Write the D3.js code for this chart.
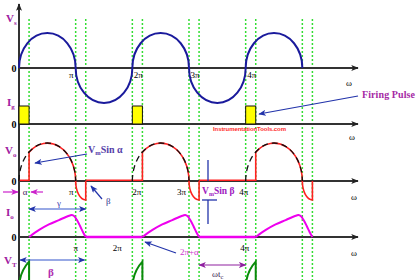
<!DOCTYPE html>
<html>
<head>
<meta charset="utf-8">
<script src="https://cdn.jsdelivr.net/npm/d3@7"></script>
<style>
  body { margin: 0; background: #fff; }
  svg { display: block; }
  .lbl { font-family: "Liberation Serif", "Times New Roman", serif; font-weight: bold; }
  .tick { font-family: "Liberation Serif", "Times New Roman", serif; font-size: 9px; }
</style>
</head>
<body>
<svg id="viz" width="420" height="280"></svg>
<script>
// angles in degrees of wt
const alphaDeg = 32;          // firing angle
const betaDeg = 212;          // extinction angle

// supply half waves (start angle, sign)
const supplyStarts = [0, 180, 360, 540, 720];
const supplySigns = [1, -1, 1, -1, 1];

// positive cycles that are fired
const firedCycles = [0, 360, 720];

// output voltage levels at firing / extinction (per unit of Vm)
const vAtAlpha = 0.76;
const vAtBeta = -0.5;

// load current during one conduction interval (per unit of peak)
const ioAngles = [32, 64, 95, 127, 149, 162, 168, 175, 184, 194, 203, 212];
const ioValues = [0, 0.32, 0.57, 0.77, 0.91, 0.98, 1.0, 0.95, 0.77, 0.5, 0.23, 0];

// dotted guide lines
const guideAngles = [32, 180, 212, 360, 392, 540, 572, 720, 752, 900, 932];

// tick labels
const tickAngles = [180, 360, 540, 720];
const tickLabels = ["π", "2π", "3π", "4π"];

const svg = d3.select('#viz');

const x = d3.scaleLinear().domain([0, 1080]).range([19, 359]);
const yVs = d3.scaleLinear().domain([-1, 1]).range([103, 33]);
const yIg = d3.scaleLinear().domain([0, 1]).range([124, 106]);
const yVo = d3.scaleLinear().domain([-1, 1]).range([219, 143]);
const yIo = d3.scaleLinear().domain([0, 1]).range([237, 215]);
const yVt = d3.scaleLinear().domain([-1, 1]).range([325, 253]);

// ---- markers
const defs = svg.append('defs');
function marker(id, color) {
    defs.append('marker')
        .attr('id', id)
        .attr('viewBox', '0 -4 10 8')
        .attr('refX', 9).attr('refY', 0)
        .attr('markerWidth', 8).attr('markerHeight', 6)
        .attr('markerUnits', 'userSpaceOnUse')
        .attr('orient', 'auto-start-reverse')
        .append('path')
        .attr('d', 'M0,-4L10,0L0,4L2.5,0Z')
        .attr('fill', color);
}
marker('ah-black', '#222');
marker('ah-blue', '#2233aa');
marker('ah-mag', '#cc22cc');
marker('ah-purple', '#9020a0');

// half of a sine drawn as an elliptical arc, like in the picture
function halfWave(y, start, sign) {
    const rx = (x(180) - x(0)) / 2, ry = y(0) - y(1);
    return `M${x(start)},${y(0)}A${rx},${ry} 0 0 ${sign > 0 ? 1 : 0} ${x(start + 180)},${y(0)}`;
}

// ---- green dotted guides
svg.append('g')
    .selectAll('line')
    .data(guideAngles)
    .enter()
    .append('line')
    .attr('x1', d => x(d)).attr('x2', d => x(d))
    .attr('y1', 19).attr('y2', 280)
    .attr('stroke', '#33dd33')
    .attr('stroke-width', 1.5)
    .attr('stroke-dasharray', '2,2');

// ---- axes
const axisLevels = [yVs(0), yIg(0), yVo(0), yIo(0)];
svg.append('g')
    .selectAll('line')
    .data(axisLevels)
    .enter()
    .append('line')
    .attr('x1', x(0)).attr('x2', 358)
    .attr('y1', d => d).attr('y2', d => d)
    .attr('stroke', '#333')
    .attr('stroke-width', 2)
    .attr('marker-end', 'url(#ah-black)');

svg.append('line')
    .attr('x1', x(0)).attr('x2', x(0))
    .attr('y1', 280).attr('y2', 4)
    .attr('stroke', '#333')
    .attr('stroke-width', 2)
    .attr('marker-end', 'url(#ah-black)');

// omega labels at the end of each axis
const omegaPos = [[349, 86], [352, 140], [354, 200], [354, 256]];
svg.append('g')
    .selectAll('text')
    .data(omegaPos)
    .enter()
    .append('text')
    .attr('class', 'tick')
    .attr('x', d => d[0]).attr('y', d => d[1])
    .attr('text-anchor', 'middle')
    .text('ω');

// zero labels
svg.append('g')
    .selectAll('text')
    .data(axisLevels)
    .enter()
    .append('text')
    .attr('class', 'lbl')
    .attr('font-size', 10)
    .attr('x', 14).attr('y', d => d + 3.5)
    .attr('text-anchor', 'middle')
    .text('0');

// panel names
function name(xp, yp, main, sub, color) {
    const t = svg.append('text').attr('class', 'lbl')
        .attr('x', xp).attr('y', yp).attr('fill', color).attr('font-size', 11);
    t.append('tspan').text(main);
    t.append('tspan').attr('font-size', 7).attr('dy', 2.5).text(sub);
    return t;
}
name(6, 22, 'V', 's', '#a020a0');
name(7, 106, 'I', 'g', '#a020a0');
name(5, 154, 'V', 'o', '#a020a0');
name(6, 216, 'I', 'o', '#a020a0');
name(4, 264, 'V', 'T', '#a020a0');

// tick labels per panel (null anchor = label not shown in that panel)
function ticks(yp, anchors, shifts) {
    svg.append('g')
        .selectAll('text')
        .data(tickLabels.map((d, i) => ({ text: d, angle: tickAngles[i], anchor: anchors[i], shift: shifts[i] }))
            .filter(d => d.anchor))
        .enter()
        .append('text')
        .attr('class', 'tick')
        .attr('x', d => x(d.angle) + d.shift)
        .attr('y', yp)
        .attr('text-anchor', d => d.anchor)
        .text(d => d.text);
}
ticks(78, ['end', 'start', 'start', 'start'], [-2, 1.5, 1.5, 1.5]);
ticks(195, ['end', 'start', 'end', 'middle'], [-2, 0, -3, -2]);
ticks(251, ['middle', 'middle', null, 'middle'], [0, -15, 0, -1]);

// ---- supply voltage
svg.append('g')
    .selectAll('path')
    .data(supplyStarts)
    .enter()
    .append('path')
    .attr('d', (d, i) => halfWave(yVs, d, supplySigns[i]))
    .attr('fill', 'none')
    .attr('stroke', '#1a1a9c')
    .attr('stroke-width', 2);

// ---- gate pulses
svg.append('g')
    .selectAll('rect')
    .data(firedCycles)
    .enter()
    .append('rect')
    .attr('x', d => x(d))
    .attr('y', yIg(1))
    .attr('width', d => x(d + alphaDeg) - x(d))
    .attr('height', yIg(0) - yIg(1))
    .attr('fill', '#ffff00')
    .attr('stroke', '#111')
    .attr('stroke-width', 1);

// ---- output voltage
const zeroVo = [[0, alphaDeg], [betaDeg, 360 + alphaDeg], [360 + betaDeg, 720 + alphaDeg]];
svg.append('g')
    .selectAll('line')
    .data(zeroVo)
    .enter()
    .append('line')
    .attr('x1', d => x(d[0])).attr('x2', d => x(d[1]))
    .attr('y1', yVo(0) - 0.7).attr('y2', yVo(0) - 0.7)
    .attr('stroke', '#ff2020')
    .attr('stroke-width', 1.6);

function outputPath(c) {
    const rx = (x(180) - x(0)) / 2, ry = yVo(0) - yVo(1);
    const qx = x(c + betaDeg) - x(c + 180), qy = yVo(vAtBeta) - yVo(0);
    return `M${x(c + alphaDeg)},${yVo(0)}L${x(c + alphaDeg)},${yVo(vAtAlpha)}` +
        `A${rx},${ry} 0 0 1 ${x(c + 180)},${yVo(0)}` +
        `A${qx},${qy} 0 0 0 ${x(c + betaDeg)},${yVo(vAtBeta)}` +
        `L${x(c + betaDeg)},${yVo(0)}`;
}
svg.append('g')
    .selectAll('path')
    .data(firedCycles)
    .enter()
    .append('path')
    .attr('d', d => outputPath(d))
    .attr('fill', 'none')
    .attr('stroke', '#ff2020')
    .attr('stroke-width', 1.6);

svg.append('g')
    .selectAll('path')
    .data(firedCycles)
    .enter()
    .append('path')
    .attr('d', d => halfWave(yVo, d, 1))
    .attr('fill', 'none')
    .attr('stroke', '#111')
    .attr('stroke-width', 1.3)
    .attr('stroke-dasharray', '6,4');

// ---- load current
const zeroIo = [[betaDeg, 360 + alphaDeg], [360 + betaDeg, 720 + alphaDeg]];
svg.append('g')
    .selectAll('line')
    .data(zeroIo)
    .enter()
    .append('line')
    .attr('x1', d => x(d[0])).attr('x2', d => x(d[1]))
    .attr('y1', yIo(0)).attr('y2', yIo(0))
    .attr('stroke', '#ee00ee')
    .attr('stroke-width', 2.5);

const ioLine = d3.line()
    .x(d => d[0])
    .y(d => d[1])
    .curve(d3.curveCatmullRom);

svg.append('g')
    .selectAll('path')
    .data(firedCycles)
    .enter()
    .append('path')
    .attr('d', c => ioLine(ioAngles.map((a, i) => [x(c + a), yIo(ioValues[i])])))
    .attr('fill', 'none')
    .attr('stroke', '#ee00ee')
    .attr('stroke-width', 2);

// ---- thyristor voltage (only the part before firing is in view)
function thyristorPath(c) {
    const rx = (x(180) - x(0)) / 2, ry = yVt(0) - yVt(1);
    return `M${x(c)},${yVt(0)}A${rx},${ry} 0 0 1 ${x(c + alphaDeg)},${yVt(vAtAlpha)}` +
        `L${x(c + alphaDeg)},${yVt(0)}`;
}
svg.append('g')
    .selectAll('path')
    .data(firedCycles)
    .enter()
    .append('path')
    .attr('d', d => thyristorPath(d))
    .attr('fill', 'none')
    .attr('stroke', '#0a8a0a')
    .attr('stroke-width', 2);

// ---- annotations
function arrow(x1, y1, x2, y2, color, id, both) {
    const l = svg.append('line')
        .attr('x1', x1).attr('y1', y1).attr('x2', x2).attr('y2', y2)
        .attr('stroke', color).attr('stroke-width', 1.2)
        .attr('marker-end', `url(#${id})`);
    if (both) l.attr('marker-start', `url(#${id})`);
}

// firing pulse
arrow(358, 96, 259, 114, '#2233aa', 'ah-blue');
svg.append('text').attr('class', 'lbl').attr('x', 362).attr('y', 98)
    .attr('font-size', 10).attr('textLength', 53).attr('fill', '#a52aa5').text('Firing Pulse');

svg.append('text')
    .attr('x', 213).attr('y', 131)
    .attr('font-family', 'Arial, "Liberation Sans", sans-serif')
    .attr('font-weight', 'bold').attr('font-size', 6)
    .attr('textLength', 73).attr('fill', '#ff2a2a')
    .text('InstrumentationTools.com');

// Vm sin alpha
arrow(87, 154, 35, 163, '#2233aa', 'ah-blue');
const t1 = svg.append('text').attr('class', 'lbl').attr('x', 88).attr('y', 153)
    .attr('font-size', 10).attr('fill', '#5540a8');
t1.append('tspan').text('V');
t1.append('tspan').attr('font-size', 6.5).attr('dy', 2).text('m');
t1.append('tspan').attr('dy', -2).text('Sin α');

// beta on Vo
arrow(102, 199, 91, 186, '#2233aa', 'ah-blue');
svg.append('text').attr('class', 'tick').attr('x', 106).attr('y', 204)
    .attr('font-size', 11).attr('fill', '#2a2a8a').text('β');

// alpha marker
arrow(3, 192, 18, 192, '#cc22cc', 'ah-mag');
arrow(43, 192, 31, 192, '#cc22cc', 'ah-mag');
svg.append('text').attr('class', 'tick').attr('x', 25).attr('y', 195)
    .attr('text-anchor', 'middle').attr('font-size', 10).attr('fill', '#402060').text('α');

// gamma
arrow(x(alphaDeg), 209, x(betaDeg), 209, '#3355cc', 'ah-blue', true);
svg.append('text').attr('class', 'tick').attr('x', 59).attr('y', 206)
    .attr('text-anchor', 'middle').attr('font-size', 11).attr('fill', '#4040b0').text('γ');

// Vm sin beta
svg.append('line').attr('x1', 208).attr('x2', 208).attr('y1', 160).attr('y2', 181)
    .attr('stroke', '#2233aa').attr('stroke-width', 1.3);
svg.append('line').attr('x1', 208).attr('x2', 208).attr('y1', 200).attr('y2', 224)
    .attr('stroke', '#2233aa').attr('stroke-width', 1.3);
svg.append('line').attr('x1', 202).attr('x2', 217).attr('y1', 200).attr('y2', 200)
    .attr('stroke', '#2233aa').attr('stroke-width', 1.3);
const t2 = svg.append('text').attr('class', 'lbl').attr('x', 202).attr('y', 194)
    .attr('font-size', 9.5).attr('fill', '#a020c0');
t2.append('tspan').text('V');
t2.append('tspan').attr('font-size', 6).attr('dy', 2).text('m');
t2.append('tspan').attr('dy', -2).text('Sin β');

// 2pi + alpha
arrow(176, 253, 145, 242, '#2233aa', 'ah-blue');
svg.append('text').attr('class', 'tick').attr('x', 180).attr('y', 255)
    .attr('font-size', 9).attr('fill', '#cc33cc').text('2π+α');

// beta on V_T
arrow(20, 260, x(betaDeg) - 1, 260, '#3355cc', 'ah-blue', true);
svg.append('text').attr('class', 'lbl').attr('x', 51).attr('y', 276)
    .attr('text-anchor', 'middle').attr('font-size', 11).attr('fill', '#b030b0').text('β');

// turn-off time
arrow(x(betaDeg + 360), 265, x(720), 265, '#9020a0', 'ah-purple', true);
const t3 = svg.append('text').attr('class', 'tick').attr('x', 212).attr('y', 277)
    .attr('font-size', 10).attr('fill', '#3a1a50');
t3.append('tspan').text('ωt');
t3.append('tspan').attr('font-size', 6.5).attr('dy', 2).text('c');
</script>
</body>
</html>
